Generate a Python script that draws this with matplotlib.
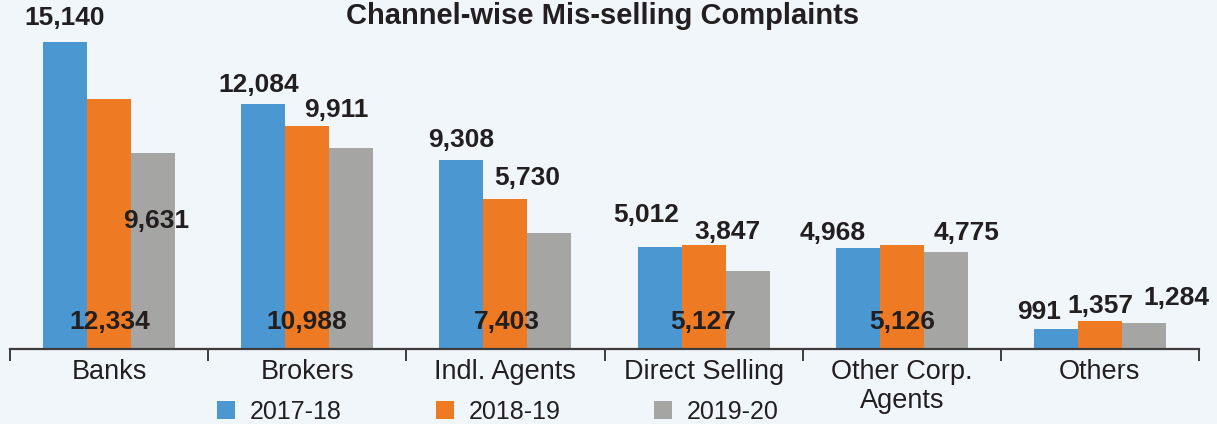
import matplotlib
matplotlib.use("Agg")
import matplotlib.pyplot as plt
from matplotlib.patches import Patch
import numpy as np

# ---- data ----
categories = ["Banks", "Brokers", "Indl. Agents", "Direct Selling", "Other Corp.\nAgents", "Others"]
series_names = ["2017-18", "2018-19", "2019-20"]
v_2017_18 = [15140, 12084, 9308, 5012, 4968, 991]
v_2018_19 = [12334, 10988, 7403, 5127, 5126, 1357]
v_2019_20 = [9631, 9911, 5730, 3847, 4775, 1284]

# ---- styling / label placement (pixel offsets from anchor) ----
colors = ["#4b97d1", "#ee7b24", "#a5a5a4"]
bg = "#f1f6fb"
txt = "#231f20"
# anchor: 'top' -> bar top centre, 'base' -> bar bottom centre ; (dx, dy) in px, dy positive = down
label_pos = [
    [("top", 0, -24), ("top", -5, -19), ("top", 0, -20), ("top", -13, -32), ("top", -25, -15), ("top", -17, -17)],
    [("base", 1, -27), ("base", 0, -27), ("base", 1, -27), ("base", 0, -27), ("base", 0, -27), ("top", 0, -15)],
    [("top", 3, 68), ("top", -15, -38), ("top", -22, -55), ("top", -20, -39), ("top", 21, -19), ("top", 32, -25)],
]

W, H = 1217, 424
fig = plt.figure(figsize=(W / 100, H / 100), dpi=100, facecolor=bg)
ax = fig.add_axes([10 / W, 75 / H, 1189 / W, 349 / H])
ax.set_facecolor(bg)

px_per_unit = 0.0203
ax.set_xlim(-0.5, len(categories) - 0.5)
ax.set_ylim(0, 349 / px_per_unit)

x = np.arange(len(categories))
bw = 0.222
all_vals = [v_2017_18, v_2018_19, v_2019_20]
font = "Liberation Sans"
for i, vals in enumerate(all_vals):
    xs = x + (i - 1) * bw
    ax.bar(xs, vals, width=bw, color=colors[i], edgecolor="none", zorder=2)
    for j, (xx, v) in enumerate(zip(xs, vals)):
        mode, dx, dy = label_pos[i][j]
        y = v if mode == "top" else 0
        ax.annotate(f"{v:,}", xy=(xx, y), xytext=(dx * 0.72, -dy * 0.72),
                    textcoords="offset points", ha="center", va="center",
                    fontsize=19, fontweight="bold", color=txt, family=font, zorder=5)

for s in ["left", "right", "top"]:
    ax.spines[s].set_visible(False)
ax.spines["bottom"].set_color("#3c3c3c")
ax.spines["bottom"].set_linewidth(1.6)
ax.set_yticks([])
ax.set_xticks(np.arange(-0.5, len(categories), 1.0))
ax.set_xticklabels([])
ax.tick_params(axis="x", which="major", length=8.5, width=1.4, color="#3c3c3c", direction="out")
ax.set_xticks(x, minor=True)
ax.set_xticklabels(categories, minor=True, fontsize=19.5, family=font, color=txt, linespacing=1.15)
ax.tick_params(axis="x", which="minor", length=0, pad=7)

fig.text(603 / W, 1 - 16 / H, "Channel-wise Mis-selling Complaints", ha="center", va="center",
         fontsize=21, fontweight="bold", family=font, color=txt)

handles = [Patch(facecolor=c, edgecolor="none") for c in colors]
fig.legend(handles, series_names, loc="center", bbox_to_anchor=(498 / W, 1 - 412 / H), ncol=3,
           frameon=False, prop={"family": font, "size": 18}, handlelength=0.72, handleheight=0.72,
           handletextpad=0.6, columnspacing=3.75, labelcolor=txt)

fig.savefig("out.png", dpi=100, facecolor=bg)
